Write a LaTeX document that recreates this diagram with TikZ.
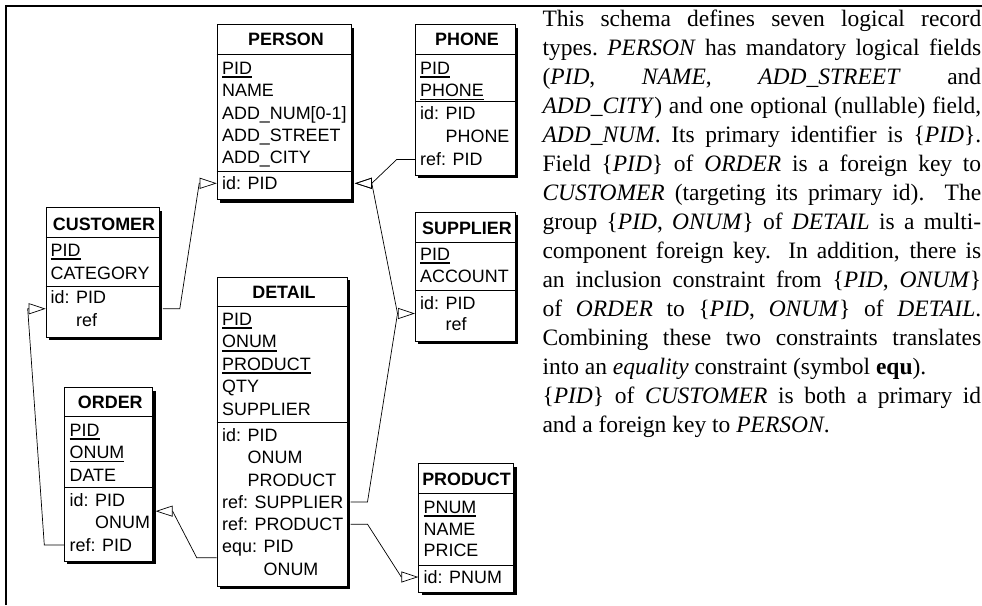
\documentclass[tikz,border=0pt]{standalone}
\usepackage{fontspec}
\setmainfont{Liberation Serif}
\newfontfamily\diagfont{Liberation Sans}
\usetikzlibrary{arrows.meta,shadows,calc}

% primary-key field: text with a heavy underline
\newcommand\pkey[1]{\setbox0\hbox{#1}\rlap{\rule[-3.6pt]{\wd0}{1.8pt}}\box0}
% one justified line of the explanatory paragraph
\newcommand\jline[1]{\makebox[438.7pt][s]{#1}}

\begin{document}
\begin{tikzpicture}[
  x=1pt, y=-1pt,
  tbl/.style={draw, line width=0.8pt, fill=white, inner sep=0pt, anchor=north west,
    drop shadow={shadow xshift=3pt, shadow yshift=-3pt, opacity=1, fill=black}},
  fld/.style={anchor=west, inner sep=0pt, font=\diagfont\fontsize{17.9}{20}\selectfont,
    text height=12.8pt, text depth=0pt},
  hdr/.style={fld, anchor=center, font=\diagfont\bfseries\fontsize{17.9}{20}\selectfont},
  sepline/.style={line width=0.7pt},
  link/.style={line width=0.7pt, -{Triangle[open, length=17pt, width=11pt]}},
  txt/.style={anchor=base west, inner sep=0pt, font=\fontsize{23.5}{29}\selectfont},
]
\useasboundingbox (0,0) rectangle (982,605);

% frame
\draw[line width=1.8pt] (6.2,605) -- (6.2,5.7) -- (982,5.7);

% ---------------- PERSON
\node[tbl, minimum width=134.3pt, minimum height=175pt] (person) at (216.7,24.3) {};
\draw[sepline] (person.west |- 0,54.3) -- (person.east |- 0,54.3);
\draw[sepline] (person.west |- 0,171.7) -- (person.east |- 0,171.7);
\node[hdr] (person-h) at (286,39.5) {PERSON};
\node[fld] (person-pid) at (222,68) {\pkey{PID}};
\node[fld] (person-name) at (222,90.3) {NAME};
\node[fld] (person-num) at (222,112.6) {ADD\_NUM[0-1]};
\node[fld] (person-street) at (222,134.9) {ADD\_STREET};
\node[fld] (person-city) at (222,157.2) {ADD\_CITY};
\node[fld] (person-id) at (222,183.3) {id: PID};

% ---------------- PHONE
\node[tbl, minimum width=100pt, minimum height=150.7pt] (phone) at (415,24.3) {};
\draw[sepline] (phone.west |- 0,54.3) -- (phone.east |- 0,54.3);
\draw[sepline] (phone.west |- 0,101) -- (phone.east |- 0,101);
\node[hdr] (phone-h) at (467,39.5) {PHONE};
\node[fld] (phone-pid) at (420,68) {\pkey{PID}};
\node[fld] (phone-phone) at (420,90.3) {\pkey{PHONE}};
\node[fld] (phone-id) at (420,113.5) {id: PID};
\node[fld] (phone-id2) at (420,136.5) {\phantom{id: }PHONE};
\node[fld] (phone-ref) at (420,159.5) {ref: PID};

% ---------------- CUSTOMER
\node[tbl, minimum width=113.3pt, minimum height=129.7pt] (cust) at (45.7,207.3) {};
\draw[sepline] (cust.west |- 0,237.3) -- (cust.east |- 0,237.3);
\draw[sepline] (cust.west |- 0,286) -- (cust.east |- 0,286);
\node[hdr] (cust-h) at (104,224) {CUSTOMER};
\node[fld] (cust-pid) at (50.5,250) {\pkey{PID}};
\node[fld] (cust-cat) at (50.5,273) {CATEGORY};
\node[fld] (cust-id) at (50.5,297.5) {id: PID};
\node[fld] (cust-ref) at (50.5,320) {\phantom{id: }ref};

% ---------------- SUPPLIER
\node[tbl, minimum width=100pt, minimum height=129.3pt] (supplier) at (415,211.7) {};
\draw[sepline] (supplier.west |- 0,242.3) -- (supplier.east |- 0,242.3);
\draw[sepline] (supplier.west |- 0,290) -- (supplier.east |- 0,290);
\node[hdr] (sup-h) at (467,227.7) {SUPPLIER};
\node[fld] (sup-pid) at (420,254) {\pkey{PID}};
\node[fld] (sup-acc) at (420,276.3) {ACCOUNT};
\node[fld] (sup-id) at (420,302.7) {id: PID};
\node[fld] (sup-ref) at (420,324.3) {\phantom{id: }ref};

% ---------------- DETAIL
\node[tbl, minimum width=130pt, minimum height=309pt] (detail) at (216.7,276.7) {};
\draw[sepline] (detail.west |- 0,306) -- (detail.east |- 0,306);
\draw[sepline] (detail.west |- 0,422) -- (detail.east |- 0,422);
\node[hdr] (det-h) at (284,292) {DETAIL};
\node[fld] (det-pid) at (222,319) {\pkey{PID}};
\node[fld] (det-onum) at (222,341.5) {\pkey{ONUM}};
\node[fld] (det-prod) at (222,364) {\pkey{PRODUCT}};
\node[fld] (det-qty) at (222,386.5) {QTY};
\node[fld] (det-sup) at (222,409) {SUPPLIER};
\node[fld] (det-id) at (222,435) {id: PID};
\node[fld] (det-id2) at (222,457.3) {\phantom{id: }ONUM};
\node[fld] (det-id3) at (222,479.6) {\phantom{id: }PRODUCT};
\node[fld] (det-refs) at (222,501.9) {ref: SUPPLIER};
\node[fld] (det-refp) at (222,524.2) {ref: PRODUCT};
\node[fld] (det-equ) at (222,546.5) {equ: PID};
\node[fld] (det-equ2) at (222,568.8) {\phantom{equ: }ONUM};

% ---------------- ORDER
\node[tbl, minimum width=88.3pt, minimum height=173.7pt] (order) at (64,387.3) {};
\draw[sepline] (order.west |- 0,416.7) -- (order.east |- 0,416.7);
\draw[sepline] (order.west |- 0,487.3) -- (order.east |- 0,487.3);
\node[hdr] (ord-h) at (110.3,402.5) {ORDER};
\node[fld] (ord-pid) at (69.5,430) {\pkey{PID}};
\node[fld] (ord-onum) at (69.5,452.3) {\pkey{ONUM}};
\node[fld] (ord-date) at (69.5,474.6) {DATE};
\node[fld] (ord-id) at (69.5,500) {id: PID};
\node[fld] (ord-id2) at (69.5,522.3) {\phantom{id: }ONUM};
\node[fld] (ord-ref) at (69.5,545) {ref: PID};

% ---------------- PRODUCT
\node[tbl, minimum width=95pt, minimum height=128.4pt] (product) at (418.3,463.3) {};
\draw[sepline] (product.west |- 0,493.3) -- (product.east |- 0,493.3);
\draw[sepline] (product.west |- 0,565) -- (product.east |- 0,565);
\node[hdr] (prod-h) at (466.5,479.3) {PRODUCT};
\node[fld] (prod-pnum) at (423.5,506.7) {\pkey{PNUM}};
\node[fld] (prod-name) at (423.5,528.6) {NAME};
\node[fld] (prod-price) at (423.5,550.5) {PRICE};
\node[fld] (prod-id) at (423.5,577) {id: PNUM};

% group attachment points
\coordinate (cust-g) at ($(cust-id.west)!0.5!(cust-ref.west)$);
\coordinate (sup-g) at ($(sup-id.west)!0.5!(sup-ref.west)$);
\coordinate (ord-g) at ($(ord-id.west)!0.5!(ord-id2.west)$);
\coordinate (det-equ-g) at ($(det-equ.west)!0.5!(det-equ2.west)$);
\coordinate (sup-base) at ([xshift=-17.5pt]supplier.west |- sup-g);
\coordinate (person-rbase) at ([xshift=20pt]person.east |- person-id);

% ---------------- connectors
\draw[link] ([xshift=3pt]cust.east |- cust-g) -- ++(17,0)
  -- ([xshift=-17.5pt]person.west |- person-id) -- (person.west |- person-id);
\draw[link] (phone.west |- phone-ref) -- ++(-18.3,0)
  -- (person-rbase) -- ([xshift=3pt]person.east |- person-id);
\draw[link] (sup-base) -- (person-rbase) -- ([xshift=3pt]person.east |- person-id);
\draw[link] ([xshift=3pt]detail.east |- det-refs) -- ++(17,0)
  -- (sup-base) -- (supplier.west |- sup-g);
\draw[link] ([xshift=3pt]detail.east |- det-refp) -- ++(17,0)
  -- ([xshift=-17pt]product.west |- prod-id) -- (product.west |- prod-id);
\draw[link] (detail.west |- det-equ-g) -- ++(-20,0)
  -- ([xshift=19.5pt]order.east |- ord-g) -- ([xshift=2.5pt]order.east |- ord-g);
\draw[link] (order.west |- ord-ref) -- ++(-19.7,0)
  -- ([xshift=-18pt]cust.west |- cust-g) -- (cust.west |- cust-g);

% ---------------- explanatory text
\node[txt] (p1) at (542.3,26) {\jline{This schema defines seven logical record}};
\node[txt] (p2) at (542.3,55) {\jline{types.\ \textit{PERSON} has mandatory logical fields}};
\node[txt] (p3) at (542.3,84) {\jline{(\textit{PID}, \textit{NAME}, \textit{ADD\_STREET} and}};
\node[txt] (p4) at (542.3,113) {\jline{\textit{ADD\_CITY}) and one optional (nullable) field,}};
\node[txt] (p5) at (542.3,142) {\jline{\textit{ADD\_NUM}. Its primary identifier is \{\textit{PID}\}.}};
\node[txt] (p6) at (542.3,171) {\jline{Field \{\textit{PID}\} of \textit{ORDER} is a foreign key to}};
\node[txt] (p7) at (542.3,200) {\jline{\textit{CUSTOMER} (targeting its primary id). The}};
\node[txt] (p8) at (542.3,229) {\jline{group \{\textit{PID}, \textit{ONUM}\} of \textit{DETAIL} is a multi-}};
\node[txt] (p9) at (542.3,258) {\jline{component foreign key. In addition, there is}};
\node[txt] (p10) at (542.3,287) {\jline{an inclusion constraint from \{\textit{PID}, \textit{ONUM}\}}};
\node[txt] (p11) at (542.3,316) {\jline{of \textit{ORDER} to \{\textit{PID}, \textit{ONUM}\} of \textit{DETAIL}.}};
\node[txt] (p12) at (542.3,345) {\jline{Combining these two constraints translates}};
\node[txt] (p13) at (542.3,374) {into an \textit{equality} constraint (symbol \textbf{equ}).};
\node[txt] (p14) at (542.3,403) {\jline{\{\textit{PID}\} of \textit{CUSTOMER} is both a primary id}};
\node[txt] (p15) at (542.3,432) {and a foreign key to \textit{PERSON}.};
\end{tikzpicture}
\end{document}
